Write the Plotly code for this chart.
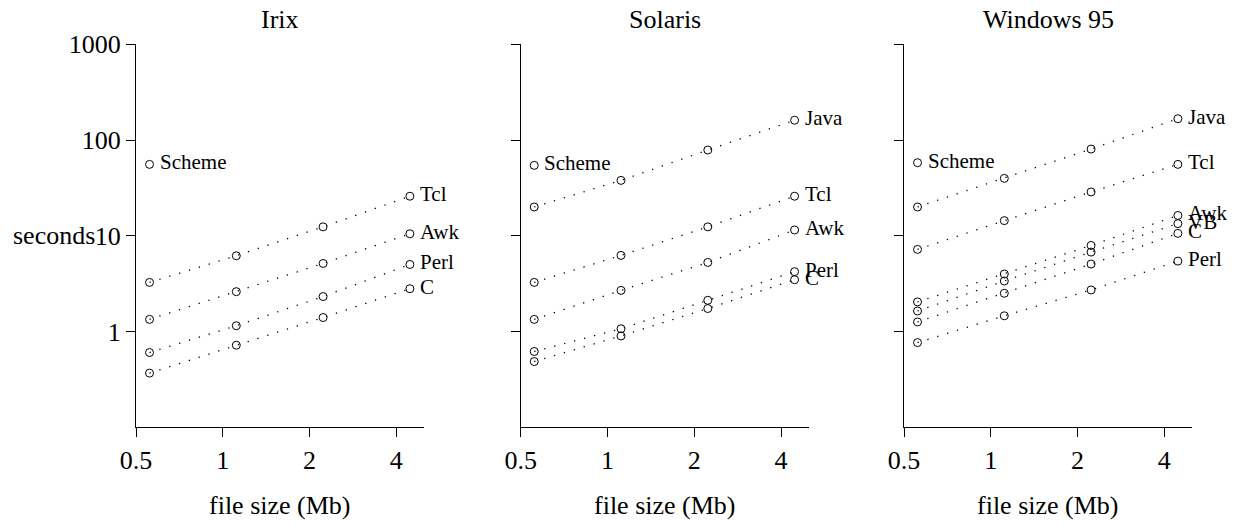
import math
import plotly.graph_objects as go

W, H = 1239, 525
FONT = "Liberation Serif"

panel_titles = ["Irix", "Solaris", "Windows 95"]
x_sizes = [0.557, 1.114, 2.228, 4.456]
x_tick_vals = [0.5, 1, 2, 4]
x_tick_text = ["0.5", "1", "2", "4"]
y_tick_vals = [1, 10, 100, 1000]
y_tick_text = ["1", "10", "100", "1000"]

# Irix
irix_scheme = [55.7]
irix_tcl = [3.26, 6.19, 12.4, 25.9]
irix_awk = [1.34, 2.61, 5.14, 10.5]
irix_perl = [0.604, 1.15, 2.32, 5.02]
irix_c = [0.368, 0.72, 1.40, 2.80]

# Solaris
sol_java = [20.0, 37.9, 78.7, 161]
sol_scheme = [54.4]
sol_tcl = [3.26, 6.24, 12.4, 25.9]
sol_awk = [1.34, 2.69, 5.27, 11.5]
sol_perl = [0.619, 1.07, 2.12, 4.22]
sol_c = [0.486, 0.90, 1.74, 3.48]

# Windows 95
win_java = [20.0, 39.8, 80.5, 167]
win_scheme = [58.0]
win_tcl = [7.21, 14.4, 28.7, 55.7]
win_awk = [2.04, 3.99, 7.93, 16.3]
win_vb = [1.64, 3.37, 6.76, 13.4]
win_c = [1.26, 2.51, 5.07, 10.6]
win_perl = [0.767, 1.46, 2.72, 5.44]

panels = [
    [("Scheme", irix_scheme), ("Tcl", irix_tcl), ("Awk", irix_awk),
     ("Perl", irix_perl), ("C", irix_c)],
    [("Java", sol_java), ("Scheme", sol_scheme), ("Tcl", sol_tcl),
     ("Awk", sol_awk), ("Perl", sol_perl), ("C", sol_c)],
    [("Java", win_java), ("Scheme", win_scheme), ("Tcl", win_tcl),
     ("Awk", win_awk), ("VB", win_vb), ("C", win_c), ("Perl", win_perl)],
]

# layout geometry (pixels)
px_left = [136, 520.7, 904]
px_width = 288.3
py_top, py_bottom = 44.3, 427.3

fig = go.Figure()
annotations = []

for i, series in enumerate(panels):
    n = "" if i == 0 else str(i + 1)
    xa, ya = "x" + n, "y" + n
    for name, vals in series:
        xs = x_sizes[:len(vals)]
        fig.add_trace(go.Scatter(
            x=xs, y=vals, xaxis=xa, yaxis=ya, mode="lines+markers",
            line=dict(color="black", width=1.3, dash="1.3px,9px"),
            marker=dict(symbol="circle-open", size=8, color="black",
                        line=dict(width=1, color="black")),
            showlegend=False, hoverinfo="skip"))
        annotations.append(dict(
            x=math.log10(xs[-1]), y=math.log10(vals[-1]), xref=xa, yref=ya,
            text=name, showarrow=False, xanchor="left", yanchor="middle",
            xshift=8, yshift=2, font=dict(family=FONT, size=21, color="black")))

    x0 = px_left[i] / W
    x1 = (px_left[i] + px_width) / W
    axis_common = dict(showline=True, linecolor="black", linewidth=1,
                       ticks="outside", ticklen=9, tickwidth=1, tickcolor="black",
                       showgrid=False, zeroline=False, automargin=False,
                       tickfont=dict(family=FONT, size=26, color="black"))
    fig.update_layout(**{
        "xaxis" + n: dict(type="log", domain=[x0, x1], anchor=ya,
                          range=[math.log10(0.5), math.log10(5)],
                          tickvals=x_tick_vals, ticktext=x_tick_text,
                          **axis_common),
        "yaxis" + n: dict(type="log", domain=[1 - py_bottom / H, 1 - py_top / H],
                          anchor=xa, range=[-1, 3],
                          tickvals=y_tick_vals, ticktext=y_tick_text,
                          showticklabels=(i == 0), **axis_common),
    })
    cx = (x0 + x1) / 2
    annotations.append(dict(x=cx, y=1 - 20 / H, xref="paper", yref="paper",
                            text=panel_titles[i], showarrow=False,
                            xanchor="center", yanchor="middle",
                            font=dict(family=FONT, size=26, color="black")))
    annotations.append(dict(x=cx, y=1 - 505 / H, xref="paper", yref="paper",
                            text="file size (Mb)", showarrow=False,
                            xanchor="center", yanchor="middle",
                            font=dict(family=FONT, size=26, color="black")))

annotations.append(dict(x=93 / W, y=1, xref="paper", yref="y",
                        text="seconds", showarrow=False,
                        xanchor="right", yanchor="middle", xshift=4,
                        font=dict(family=FONT, size=26, color="black")))

fig.update_layout(width=W, height=H, margin=dict(l=0, r=0, t=0, b=0),
                  paper_bgcolor="white", plot_bgcolor="white",
                  annotations=annotations,
                  font=dict(family=FONT, color="black"))

fig.write_html("out.html")
